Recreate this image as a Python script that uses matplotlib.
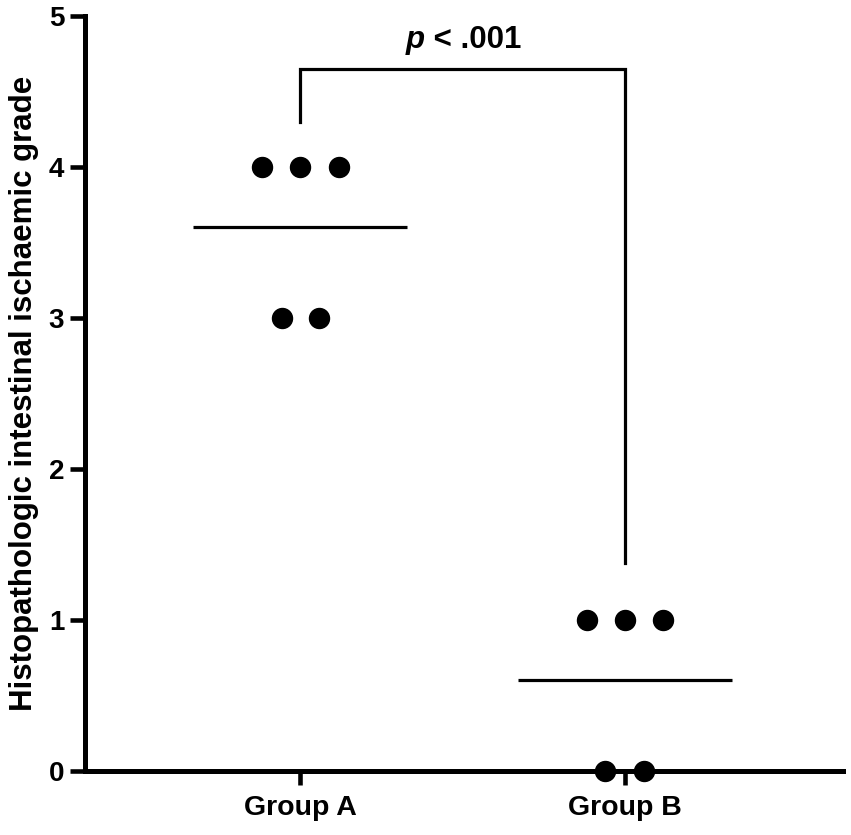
import numpy as np
import matplotlib.pyplot as plt

plt.rcParams['font.family'] = ['Liberation Sans', 'DejaVu Sans']
plt.rcParams['font.weight'] = 'bold'

# Datos
groups = ['Group A', 'Group B']
group_pos = [0, 1]
a_scores = [4, 4, 4, 3, 3]
a_jitter = [-0.118, 0.0, 0.12, -0.056, 0.058]
b_scores = [1, 1, 1, 0, 0]
b_jitter = [-0.118, 0.0, 0.118, -0.06, 0.058]
bracket_y = [4.3, 4.65, 1.38]

fig = plt.figure(figsize=(8.51, 8.35), dpi=100)
ax = fig.add_axes([85/851, 64/835, 758/851, 755/835])

for pos, scores, jit in [(group_pos[0], a_scores, a_jitter), (group_pos[1], b_scores, b_jitter)]:
    xs = pos + np.array(jit)
    ax.plot(xs, scores, 'o', color='black', markersize=14.4, clip_on=False, zorder=5)
    m = np.mean(scores)
    ax.plot([pos - 0.33, pos + 0.33], [m, m], color='black', lw=2.3, solid_capstyle='butt')

# corchete de significancia
ax.plot([group_pos[0], group_pos[0], group_pos[1], group_pos[1]],
        [bracket_y[0], bracket_y[1], bracket_y[1], bracket_y[2]],
        color='black', lw=2.3, solid_joinstyle='miter')
ax.text(0.384, 4.79, 'p', ha='right', va='baseline', fontsize=22.5,
        fontweight='bold', fontstyle='italic')
ax.text(0.384, 4.79, ' < .001', ha='left', va='baseline', fontsize=22.5,
        fontweight='bold')

ax.set_xlim(-0.6615, 1.671)
ax.set_ylim(0, 5)
ax.set_yticks([0, 1, 2, 3, 4, 5])
ax.set_xticks(group_pos)
ax.set_xticklabels(groups, fontsize=20.5, fontweight='bold')
ax.tick_params(axis='y', labelsize=20, length=11, width=3.3, pad=4)
ax.tick_params(axis='x', length=10, width=3.3, pad=7)
for s in ['top', 'right']:
    ax.spines[s].set_visible(False)
for s in ['left', 'bottom']:
    ax.spines[s].set_linewidth(3.6)
ax.set_ylabel('Histopathologic intestinal ischaemic grade', fontsize=22.5,
              fontweight='bold', labelpad=7)

fig.savefig('out.png', dpi=100)
